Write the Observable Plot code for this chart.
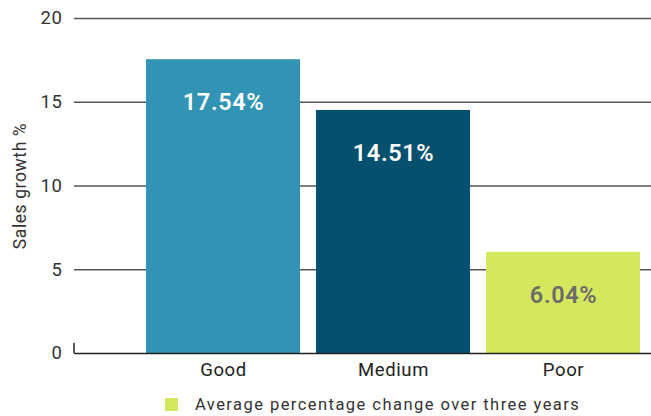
<!DOCTYPE html>
<html><head><meta charset="utf-8">
<script src="https://cdn.jsdelivr.net/npm/d3@7"></script>
<script src="https://cdn.jsdelivr.net/npm/@observablehq/plot@0.6"></script>
<style>
body{margin:0;background:#fff;font-family:Roboto,"Liberation Sans",sans-serif;}
#legend{display:flex;align-items:center;height:22px;margin-left:165px;margin-top:5px;font-size:16.5px;letter-spacing:1.45px;color:#333;}
#legend span.sw{display:inline-block;width:13px;height:13px;background:#d5e75c;margin-right:17px;}
</style></head><body>
<div id="chart"></div>
<div id="legend"><span class="sw"></span><span>Average percentage change over three years</span></div>
<script>
const categories = ["Good", "Medium", "Poor"];
const values = [17.54, 14.51, 6.04];
const colors = ["#3194b5", "#03506f", "#d5e85d"];
const labelColors = ["#ffffff", "#ffffff", "#6b6b6b"];
const yTicks = [0, 5, 10, 15, 20];

const data = categories.map((c, i) => ({cat: c, value: values[i], color: colors[i], lc: labelColors[i], label: values[i].toFixed(2) + "%"}));

const chart = Plot.plot({
  width: 651,
  height: 388,
  marginLeft: 74,
  marginRight: 0,
  marginTop: 18,
  marginBottom: 35,
  style: {fontFamily: "Roboto, 'Liberation Sans', sans-serif", background: "#fff", letterSpacing: "0.6px"},
  x: {domain: categories, range: [138, 648], paddingInner: 0.094, paddingOuter: 0.047},
  y: {domain: [0, 20], ticks: yTicks},
  marks: [
    Plot.ruleY([5, 10, 15, 20], {stroke: "#555", strokeWidth: 1.3}),
    Plot.barY(data, {x: "cat", y: "value", fill: "color"}),
    Plot.ruleY([0], {stroke: "#222", strokeWidth: 1.5}),
    (index, scales, values, dimensions) => {
      const y0 = scales.y(0);
      const l = document.createElementNS("http://www.w3.org/2000/svg", "line");
      l.setAttribute("x1", dimensions.marginLeft); l.setAttribute("x2", dimensions.marginLeft);
      l.setAttribute("y1", y0 - 10); l.setAttribute("y2", y0);
      l.setAttribute("stroke", "#222"); l.setAttribute("stroke-width", 1.5);
      return l;
    },
    Plot.text(data, {x: "cat", y: "value", text: "label", fill: "lc", dy: 43, fontSize: 23.5, fontWeight: 600}),
    Plot.axisY({ticks: yTicks, tickSize: 0, tickPadding: 12, fontSize: 18.5, fill: "#333", label: null}),
    Plot.text(["Sales growth %"], {frameAnchor: "left", textAnchor: "middle", dx: -54, rotate: -90, fontSize: 17.5, fill: "#333", text: d => d}),
    Plot.axisX({tickSize: 0, tickPadding: 9, fontSize: 18.5, fill: "#222", label: null})
  ]
});
document.getElementById("chart").appendChild(chart);
</script>
</body></html>
